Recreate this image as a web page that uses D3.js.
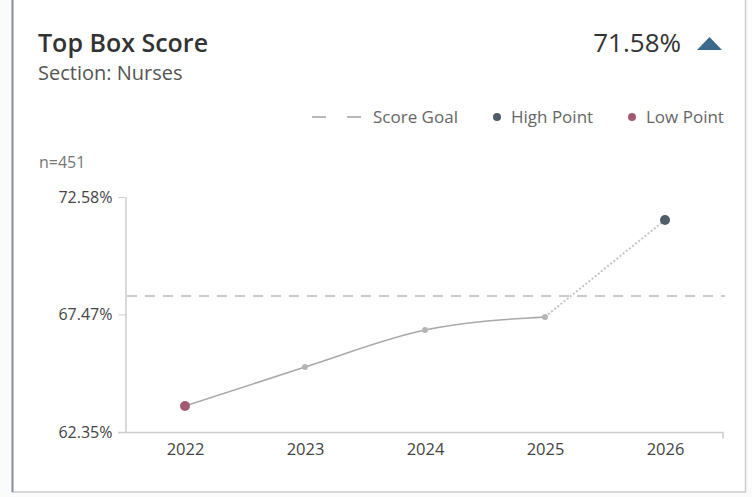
<!DOCTYPE html>
<html>
<head>
<meta charset="utf-8">
<script src="https://cdn.jsdelivr.net/npm/d3@7"></script>
<style>
  html, body { margin: 0; padding: 0; background: #ffffff; }
  svg { display: block; font-family: "Open Sans", "Noto Sans", sans-serif; }
</style>
</head>
<body>
<svg id="chart" width="752" height="497"></svg>
<script>
// Yearly top box score for the Nurses section
const years = ["2022", "2023", "2024", "2025", "2026"];
const scores = [63.48, 65.18, 66.79, 67.36, 71.58];
const scoreGoal = 68.27;
const yTicks = [62.35, 67.47, 72.58];
const sampleSize = 451;
const legendItems = ["Score Goal", "High Point", "Low Point"];

const svg = d3.select("#chart");
const W = 752, H = 497;

// card frame
svg.append("rect").attr("x", 0).attr("y", 0).attr("width", W).attr("height", H).attr("fill", "#fbfbfb");
svg.append("rect").attr("x", 12.5).attr("y", -2).attr("width", 733).attr("height", 494)
  .attr("fill", "#ffffff").attr("stroke", "#c9ccd0").attr("stroke-width", 1.5);
svg.append("line").attr("x1", 12.5).attr("x2", 12.5).attr("y1", 0).attr("y2", 492)
  .attr("stroke", "#8a939b").attr("stroke-width", 2);

// header
svg.append("text").attr("x", 38).attr("y", 52).attr("font-size", 25).attr("font-weight", 600)
  .attr("fill", "#333").text("Top Box Score");
svg.append("text").attr("x", 38).attr("y", 80).attr("font-size", 20).attr("fill", "#555")
  .text("Section: Nurses");

const latest = scores[scores.length - 1];
svg.append("text").attr("x", 681).attr("y", 52).attr("text-anchor", "end").attr("font-size", 26)
  .attr("fill", "#333").text(d3.format(".2f")(latest) + "%");
svg.append("path").attr("d", "M697,50 L709.5,37 L722,50 Z").attr("fill", "#3d6a8a");

// legend
const legendY = 117;
const lg = svg.append("g").attr("font-size", 17).attr("fill", "#666");
lg.append("line").attr("x1", 312).attr("x2", 326).attr("y1", legendY).attr("y2", legendY)
  .attr("stroke", "#888").attr("stroke-width", 1.2);
lg.append("line").attr("x1", 347).attr("x2", 361).attr("y1", legendY).attr("y2", legendY)
  .attr("stroke", "#888").attr("stroke-width", 1.2);
lg.append("text").attr("x", 373).attr("y", legendY + 6).text(legendItems[0]);
lg.append("circle").attr("cx", 497).attr("cy", legendY).attr("r", 4).attr("fill", "#4f5d68");
lg.append("text").attr("x", 511).attr("y", legendY + 6).text(legendItems[1]);
lg.append("circle").attr("cx", 632).attr("cy", legendY).attr("r", 4).attr("fill", "#a35a70");
lg.append("text").attr("x", 646).attr("y", legendY + 6).text(legendItems[2]);

svg.append("text").attr("x", 39).attr("y", 168).attr("font-size", 16).attr("fill", "#777")
  .text("n=" + sampleSize);

// scales
const x = d3.scalePoint().domain(years).range([125, 725]).padding(0.5);
const y = d3.scaleLinear().domain([yTicks[0], yTicks[2]]).range([432, 197]);

// y axis
const yAxis = d3.axisLeft(y).tickValues(yTicks).tickFormat(d => d3.format(".2f")(d) + "%")
  .tickSizeInner(7).tickSizeOuter(0);
const gy = svg.append("g").attr("transform", "translate(125.5,0)").call(yAxis);
gy.select(".domain").attr("stroke", "#ccc").attr("stroke-width", 1.5);
gy.selectAll(".tick line").attr("stroke", "#ccc");
gy.selectAll(".tick text").attr("font-size", 16).attr("fill", "#444").attr("font-family", "Open Sans, sans-serif")
  .attr("x", -13);

// x axis
const xAxis = d3.axisBottom(x).tickSize(0).tickPadding(11);
const gx = svg.append("g").attr("transform", "translate(0,432.5)").call(xAxis);
gx.select(".domain").attr("stroke", "#ccc").attr("stroke-width", 1.5)
  .attr("d", "M118,0H723V6");
gx.selectAll(".tick text").attr("font-size", 16.5).attr("fill", "#444").attr("font-family", "Open Sans, sans-serif");

// goal line
svg.append("line").attr("x1", 127).attr("x2", 725).attr("y1", y(scoreGoal)).attr("y2", y(scoreGoal))
  .attr("stroke", "#bbb").attr("stroke-width", 1.5).attr("stroke-dasharray", "10,8");

// score line: solid for actuals, dotted for the last segment
const pts = years.map((yr, i) => [x(yr), y(scores[i])]);
const line = d3.line().curve(d3.curveMonotoneX);
svg.append("path").attr("d", line(pts.slice(0, 4))).attr("fill", "none")
  .attr("stroke", "#a9a9a9").attr("stroke-width", 1.5);
svg.append("path").attr("d", d3.line()(pts.slice(3))).attr("fill", "none")
  .attr("stroke", "#c4c4c4").attr("stroke-width", 2).attr("stroke-dasharray", "2,2");

// points
const hi = d3.maxIndex(scores), lo = d3.minIndex(scores);
svg.append("g").selectAll("circle").data(pts).join("circle")
  .attr("cx", d => d[0]).attr("cy", d => d[1])
  .attr("r", (d, i) => (i === hi || i === lo) ? 5 : 3)
  .attr("fill", (d, i) => i === hi ? "#4f5d68" : i === lo ? "#a35a70" : "#b5b5b5");
</script>
</body>
</html>
